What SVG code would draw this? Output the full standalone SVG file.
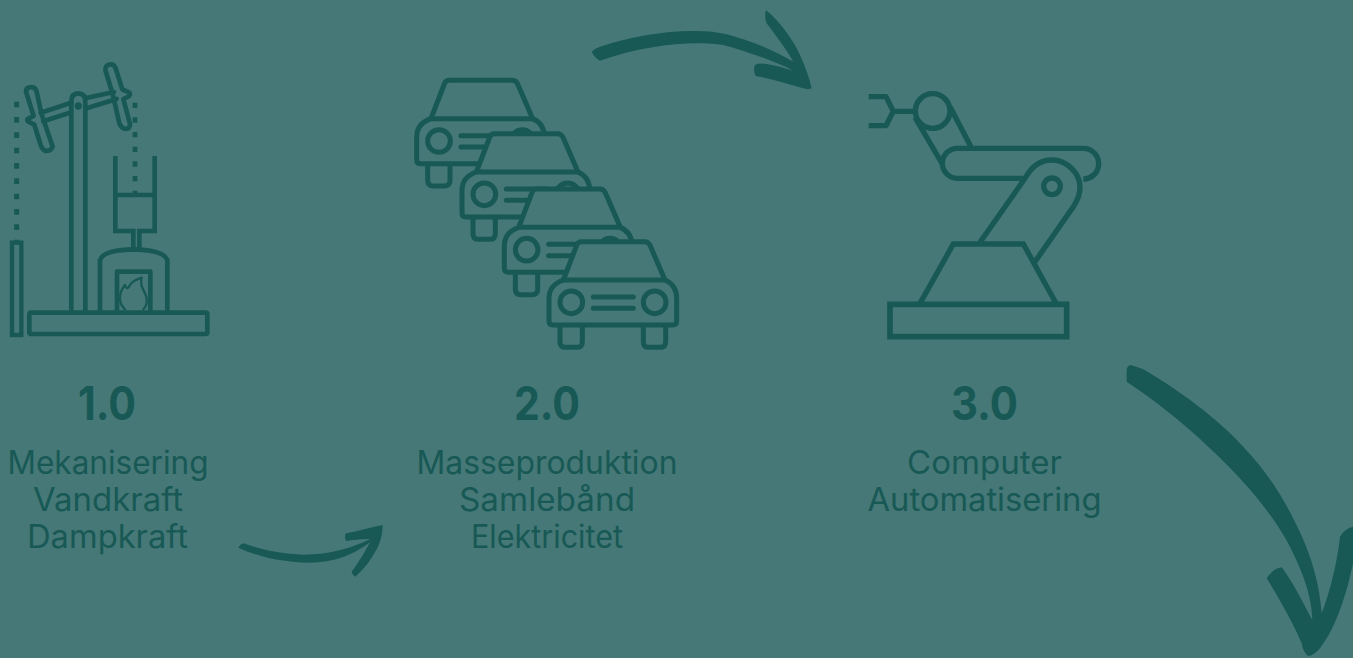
<svg xmlns="http://www.w3.org/2000/svg" width="1353" height="658" viewBox="0 0 1353 658">
<style>
.ln{fill:none;stroke:#185955;stroke-width:14;stroke-linejoin:round;stroke-linecap:round}
.bf{fill:#457877;stroke:#185955;stroke-width:15;stroke-linejoin:round;stroke-linecap:round}
.cr{fill:none;stroke:#185955;stroke-width:15;stroke-linejoin:round;stroke-linecap:round}
.ar{fill:#185955}
.h{font-family:"Inter","Liberation Sans",sans-serif;font-weight:700;font-size:46px;fill:#185955;text-anchor:middle}
.t{font-family:"Inter","Liberation Sans",sans-serif;font-weight:400;font-size:32px;fill:#185955;text-anchor:middle}
</style>
<defs>
<g id="car">
<path class="bf" d="M490,660 L530,556 Q533,545 545,545 H733 Q745,545 750,556 L795,660 Q830,675 830,715 V783 Q830,795 818,795 H459 Q447,795 447,783 V715 Q447,675 490,660 Z"/>
<path class="cr" d="M490,660 H795"/>
<path class="cr" d="M480,797 V845 Q480,862 497,862 H530 Q547,862 547,845 V797"/>
<path class="cr" d="M730,797 V845 Q730,862 747,862 H780 Q797,862 797,845 V797"/>
<circle class="cr" cx="514" cy="727" r="34"/>
<circle class="cr" cx="764" cy="727" r="34"/>
<path class="cr" d="M580,711 H700 M580,745 H700"/>
</g>
</defs>
<rect width="1353" height="658" fill="#457877"/>

<g id="node-1">
<g transform="translate(0,50) scale(.33333)">
<path class="ln" style="stroke-linecap:butt;stroke-width:15" stroke-dasharray="17 29" d="M50,155 V575"/>
<path class="ln" style="stroke-linecap:butt;stroke-width:14" stroke-dasharray="16 28" d="M405,158 V432"/>
<rect x="36" y="578" width="28" height="277" fill="none" stroke="#185955" stroke-width="13"/>
<path class="ln" d="M122,188 L214,158 M262,143 L342,126 M130,214 L214,187 M262,174 L350,147"/>
<path class="ln" d="M90,112 Q105,108 110,125 L124,190 L158,290 Q152,305 135,302 Q125,296 122,285 L103,224 L85,215 Q78,208 86,205 L101,198 L78,125 Q78,112 90,112 Z"/>
<path class="ln" d="M326,44 Q342,40 347,55 L367,118 L388,128 Q392,135 385,140 L370,147 L390,222 Q390,237 375,237 Q363,234 358,220 L338,132 L316,60 Q316,47 326,44 Z"/>
<path class="ln" d="M214,785 V155 Q214,130 235,130 Q256,130 256,155 V785" style="stroke-linecap:butt"/>
<circle cx="235" cy="168" r="11" fill="#185955"/>
<rect x="88" y="788" width="534" height="64" rx="5" class="ln"/>
<path class="ln" style="stroke-linecap:butt;stroke-linejoin:miter" d="M346,318 V543 H400 V597 M464,318 V543 H418 V597 M346,435 H464"/>
<path class="ln" style="stroke-linecap:butt" d="M300,785 V630 Q310,600 400,598 Q490,600 502,630 V785"/>
<path class="ln" style="stroke-linecap:butt" d="M351,785 V665 H451 V785"/>
<path class="ln" style="stroke-width:7" d="M375,778 C355,760 355,730 375,705 C380,720 385,715 390,705 C395,695 405,690 425,683 C420,700 425,710 435,730 C445,750 440,770 430,778"/>
</g>
</g>

<g id="node-2">
<g transform="translate(400,60) scale(.33333)">
<use href="#car" x="-397" y="-484"/>
<use href="#car" x="-261" y="-324"/>
<use href="#car" x="-134" y="-158"/>
<use href="#car"/>
</g>
</g>

<g id="node-3">
<g transform="translate(850,80) scale(.33333)">
<g class="ln" style="stroke-width:16;stroke-linecap:butt">
<path d="M56,50 H108 L130,94 L108,137 H56 M130,94 H190"/>
<circle cx="248" cy="93" r="52"/>
<path d="M195,112 L277,252 M300,80 L365,205"/>
<path d="M365,205 H322 A45,45 0 0 0 322,295 H522 M700,297 A46,46 0 0 0 700,205 H365"/>
<path d="M388,490 L525,295 Q555,240 605,240 C655,240 690,285 690,320 C690,345 680,365 670,380 L555,545"/>
<circle cx="606" cy="319" r="25"/>
<path d="M210,670 L310,492 H520 L618,670" style="stroke-linejoin:miter"/>
<rect x="120" y="673" width="530" height="97" style="stroke-width:17;stroke-linejoin:miter"/>
</g>
</g>
</g>

<g id="connectors">
<path class="ar" transform="translate(230,515) scale(.33333)" d="M25,98 Q30,88 40,85 C90,103 150,117 220,119 C300,119 370,98 420,72 C395,72 365,75 348,78 Q342,65 348,55 C385,48 420,38 458,30 C458,60 450,90 430,120 C415,145 395,170 375,185 Q365,178 365,170 C385,145 405,110 420,82 C385,108 340,132 290,139 C220,150 110,138 25,98 Z"/>
<path class="ar" transform="translate(580,0) scale(.33333)" d="M35,155 Q45,145 60,140 C150,110 260,91 350,93 Q400,93 440,103 C510,123 580,148 640,185 C620,150 590,110 560,70 Q552,50 558,30 C600,65 640,120 660,165 Q685,220 695,265 Q685,270 670,265 C620,250 570,235 527,228 Q518,210 525,195 Q535,188 560,192 C590,197 615,205 640,212 C580,182 500,154 430,135 C340,121 200,133 60,182 Q45,175 35,155 Z"/>
<path class="ar" transform="translate(1110,350) scale(.33333)" d="M50,60 Q52,46 62,45 Q80,50 100,58 C200,116 325,206 405,296 C475,371 525,448 575,558 C605,625 628,700 635,790 C655,740 680,650 690,560 Q705,535 729,530 V640 C710,730 680,830 630,895 Q610,918 595,918 Q580,910 575,880 C550,820 510,750 470,685 Q490,655 515,652 C545,690 580,760 607,810 C605,750 588,692 556,624 C516,534 466,474 416,414 C356,344 216,204 50,95 Z"/>
</g>

<g id="label-1">
<text class="h" x="107" y="420" textLength="58" lengthAdjust="spacingAndGlyphs">1.0</text>
<text class="t" x="108" y="474" textLength="201" lengthAdjust="spacingAndGlyphs">Mekanisering</text>
<text class="t" x="108" y="511" textLength="150" lengthAdjust="spacingAndGlyphs">Vandkraft</text>
<text class="t" x="107.500" y="548" textLength="161" lengthAdjust="spacingAndGlyphs">Dampkraft</text>
</g>
<g id="label-2">
<text class="h" x="547" y="420" textLength="66" lengthAdjust="spacingAndGlyphs">2.0</text>
<text class="t" x="547" y="474" textLength="261" lengthAdjust="spacingAndGlyphs">Masseproduktion</text>
<text class="t" x="547" y="511" textLength="176" lengthAdjust="spacingAndGlyphs">Samlebånd</text>
<text class="t" x="547" y="548" textLength="152" lengthAdjust="spacingAndGlyphs">Elektricitet</text>
</g>
<g id="label-3">
<text class="h" x="984.500" y="420" textLength="67" lengthAdjust="spacingAndGlyphs">3.0</text>
<text class="t" x="984.500" y="474" textLength="155" lengthAdjust="spacingAndGlyphs">Computer</text>
<text class="t" x="984.500" y="511" textLength="234" lengthAdjust="spacingAndGlyphs">Automatisering</text>
</g>
</svg>
